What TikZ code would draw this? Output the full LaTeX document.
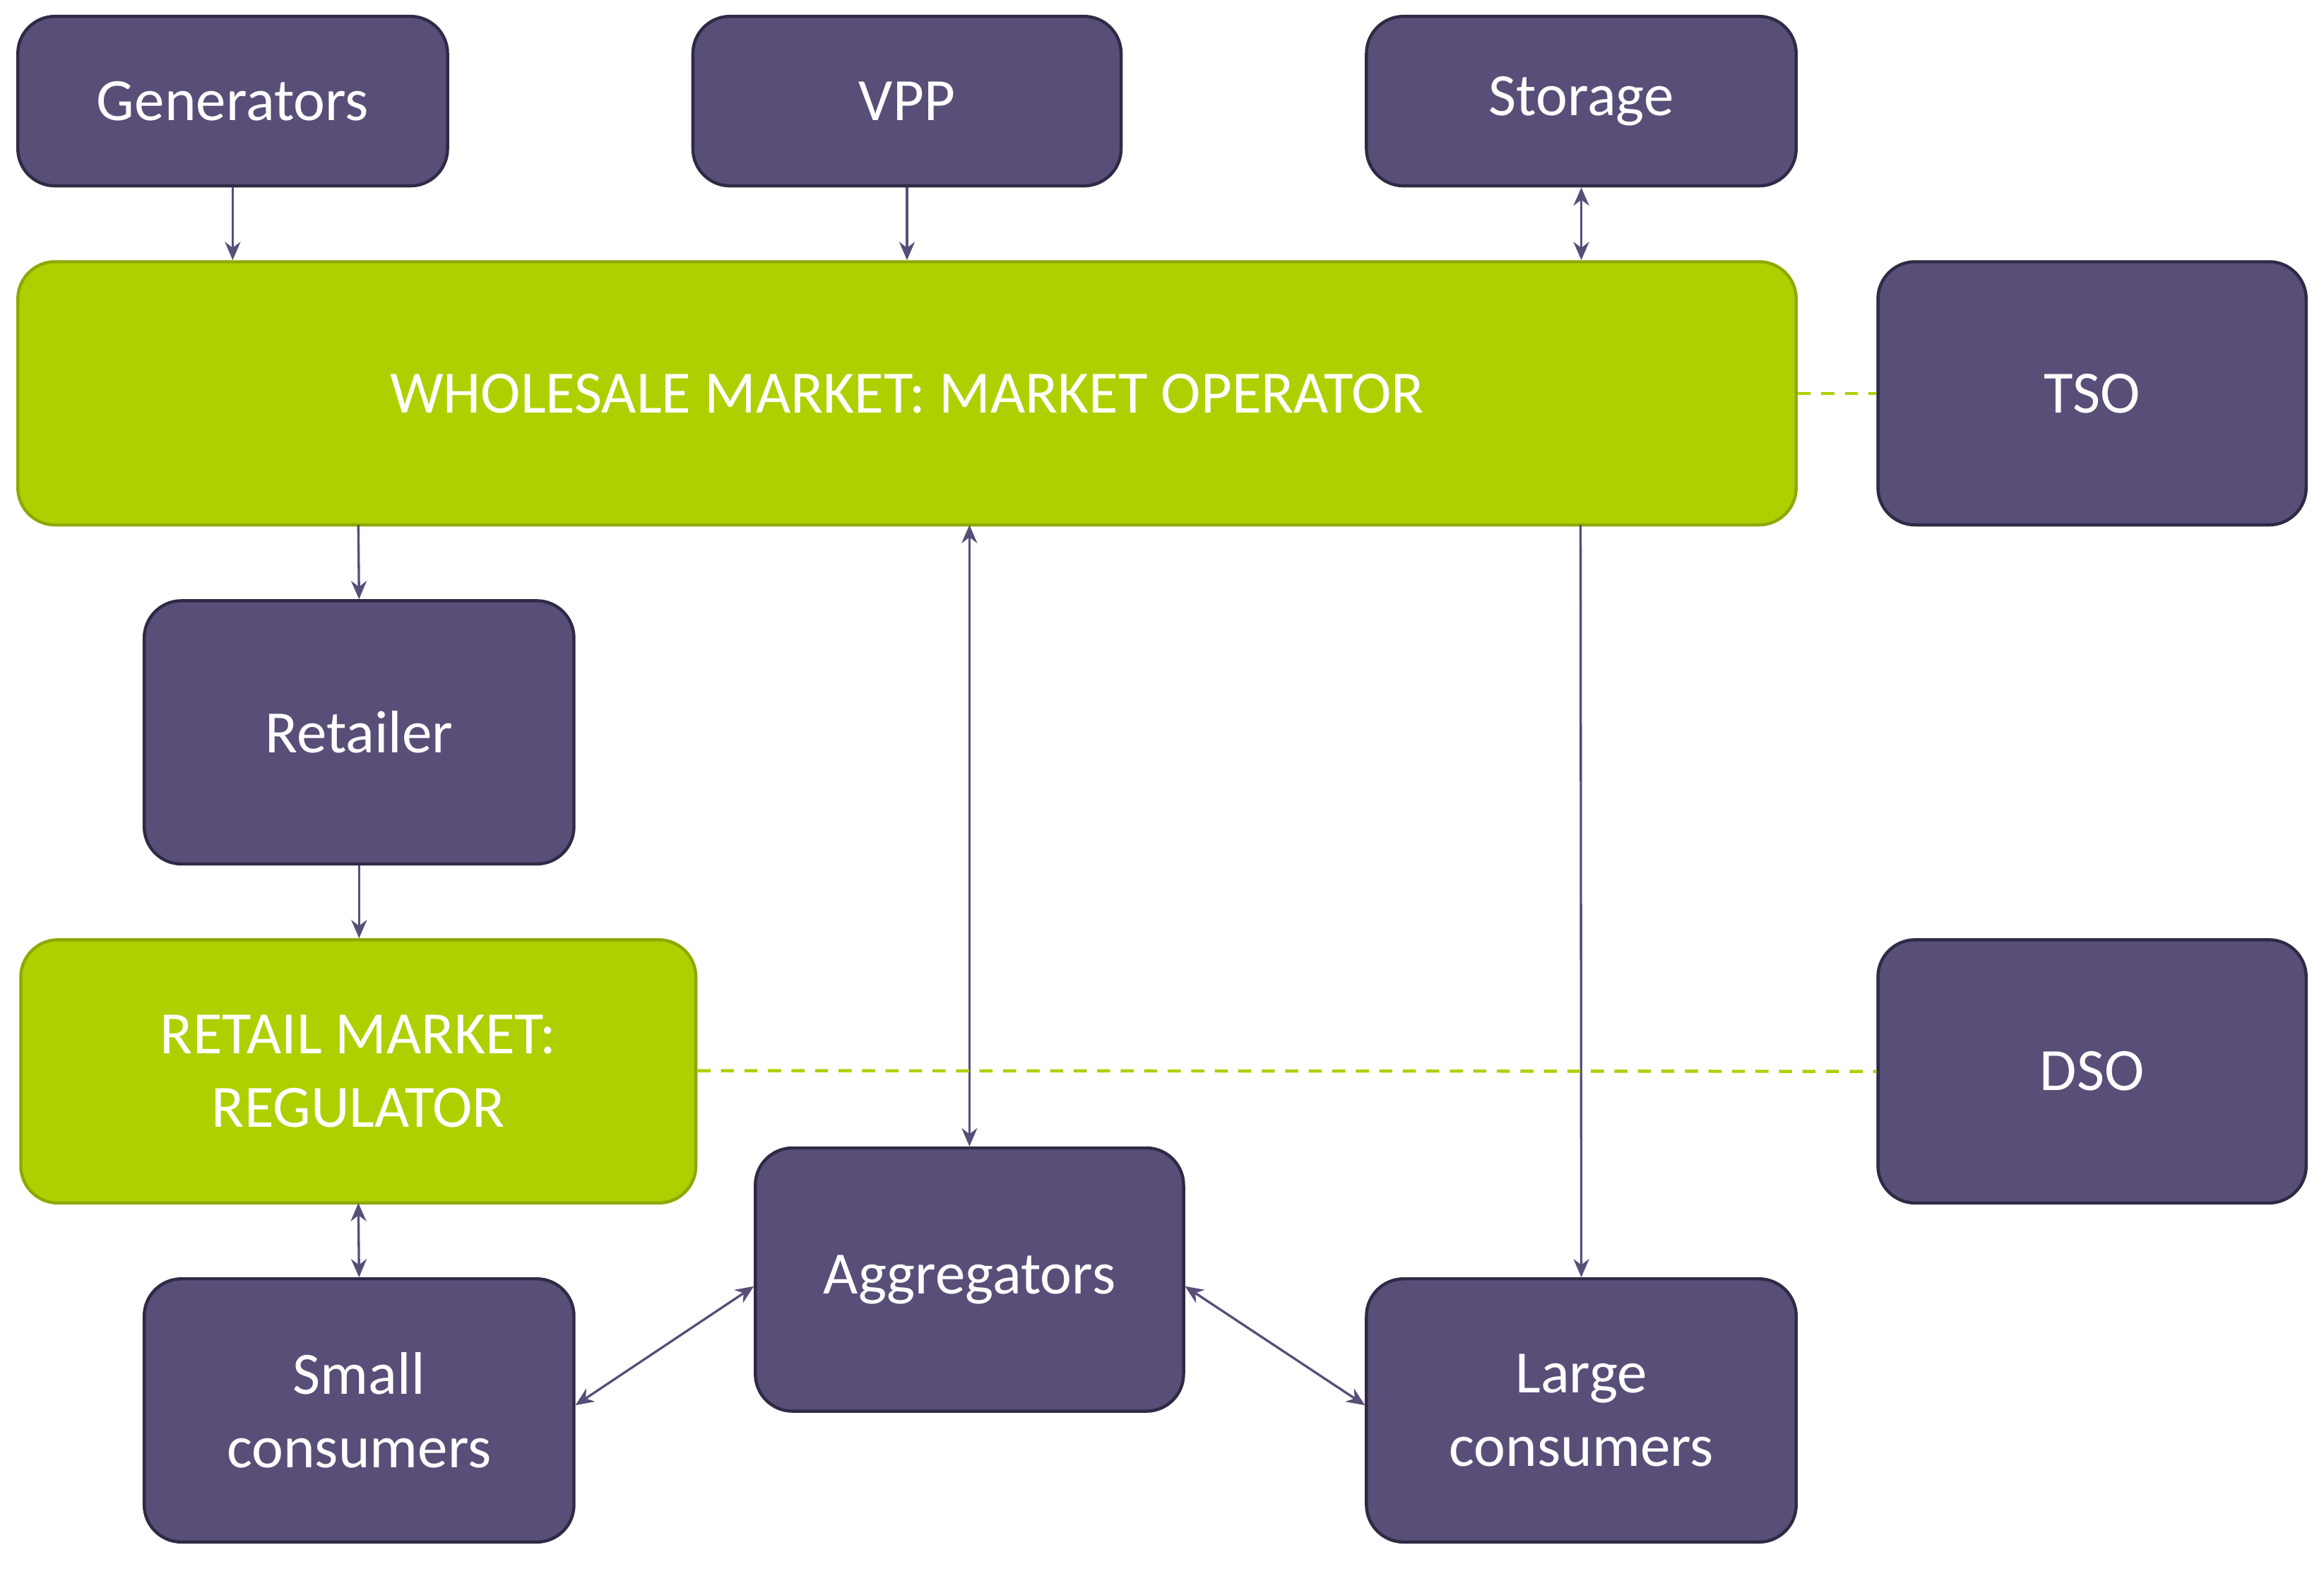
\documentclass[tikz,border=0pt]{standalone}
\usepackage{fontspec}
\setmainfont{Carlito}
\usetikzlibrary{arrows.meta}
\definecolor{purp}{HTML}{594E78}
\definecolor{purpd}{HTML}{2F2A45}
\definecolor{grn}{HTML}{AFD000}
\definecolor{grnd}{HTML}{8FA800}
\begin{document}
\begin{tikzpicture}[x=0.02cm,y=-0.02cm,
 box/.style={draw=purpd,line width=1.2pt,fill=purp,rounded corners=0.5cm,text=white,font=\fontsize{23}{28}\selectfont,align=center},
 gbox/.style={box,draw=grnd,fill=grn},
 ar/.style={draw=purp,line width=0.9pt,-{Stealth[length=7pt,width=6pt]}},
 dar/.style={ar,{Stealth[length=7pt,width=6pt]}-{Stealth[length=7pt,width=6pt]}},
 dsh/.style={draw=grn,line width=1.2pt,dash pattern=on 5pt off 4pt}]
\useasboundingbox (0,0) rectangle (1563,1055);
\newcommand{\bx}[6]{\node[#1,minimum width={(#4-#3)*0.02cm},minimum height={(#6-#5)*0.02cm},inner sep=0pt] (#2) at ({(#3+#4)/2},{(#5+#6)/2})}
\bx{box}{gen}{12}{301}{11}{125}{Generators};
\bx{box}{vpp}{466}{754}{11}{125}{VPP};
\bx{box}{sto}{919}{1208}{11}{125}{Storage};
\bx{gbox}{whole}{12}{1208}{176}{353}{WHOLESALE MARKET: MARKET OPERATOR};
\bx{box}{tso}{1263}{1551}{176}{353}{TSO};
\bx{box}{ret}{97}{386}{404}{581}{Retailer};
\bx{gbox}{rm}{14}{468}{632}{809}{RETAIL MARKET:\\REGULATOR};
\bx{box}{dso}{1263}{1551}{632}{809}{DSO};
\bx{box}{agg}{508}{796}{772}{949}{Aggregators};
\bx{box}{small}{97}{386}{860}{1037}{Small\\consumers};
\bx{box}{large}{919}{1208}{860}{1037}{Large\\consumers};
\draw[ar] (gen.south) -- (gen.south |- whole.north);
\draw[ar] (vpp.south) -- (vpp.south |- whole.north);
\draw[dar] (sto.south) -- (sto.south |- whole.north);
\draw[ar] (241,353) -- (ret.north);
\draw[dar] (652,353) -- (agg.north);
\draw[ar] (1063,353) -- (large.north);
\draw[ar] (ret.south) -- (rm.north -| ret.south);
\draw[dar] (241,809) -- (small.north);
\draw[dar] (387,945) -- (507,865);
\draw[dar] (797,865) -- (918,945);
\draw[dsh] (whole.east) -- (tso.west);
\draw[dsh] (rm.east |- 0,720) -- (dso.west);
\end{tikzpicture}
\end{document}
